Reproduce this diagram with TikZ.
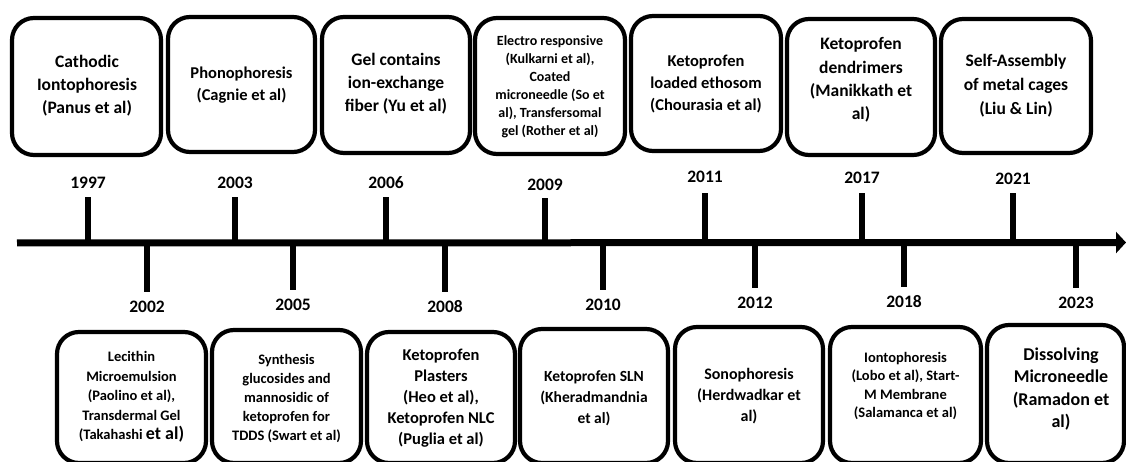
\documentclass[tikz,border=0pt]{standalone}
\usepackage{fontspec}
\setmainfont{Carlito}
\usetikzlibrary{arrows.meta}
\newcommand{\fsz}[2]{\fontsize{#1}{#2}\selectfont}
\tikzset{
  box/.style={draw=black, line width=4.2pt, rounded corners=22pt, fill=white, inner sep=0pt},
  txt/.style={align=center, inner sep=0pt},
  yr/.style={font=\bfseries\fsz{17.5}{20}, inner sep=0pt},
  axisline/.style={line width=7pt, -{Triangle[length=10pt,width=21pt]}},
  tickline/.style={line width=6pt},
}
\begin{document}
\begin{tikzpicture}[x=1pt,y=-1pt]
\useasboundingbox (0,0) rectangle (1126,462);

% ---- top boxes ----
\node[box, minimum width=149pt, minimum height=137pt] (T1) at (86.5,86.5) {};
\node[box, minimum width=147pt, minimum height=135pt] (T2) at (241.5,84.5) {};
\node[box, minimum width=148pt, minimum height=136pt] (T3) at (396,85) {};
\node[box, minimum width=150pt, minimum height=136pt] (T4) at (550,86) {};
\node[box, minimum width=150pt, minimum height=135pt] (T5) at (706,83.5) {};
\node[box, minimum width=148pt, minimum height=136pt] (T6) at (861,87) {};
\node[box, minimum width=150pt, minimum height=134pt] (T7) at (1016,86) {};

\node[txt, font=\bfseries\fsz{17.5}{23}] (T1t) at (87,86) {Cathodic\\Iontophoresis\\(Panus et al)};
\node[txt, font=\bfseries\fsz{16.5}{22}] (T2t) at (241.5,85) {Phonophoresis\\(Cagnie et al)};
\node[txt, font=\bfseries\fsz{17.5}{23}] (T3t) at (396,84) {Gel contains\\ion-exchange\\fiber (Yu et al)};
\node[txt, font=\bfseries\fsz{14}{18}] (T4t) at (550,87) {Electro responsive\\(Kulkarni et al),\\Coated\\microneedle (So et\\al), Transfersomal\\gel (Rother et al)};
\node[txt, font=\bfseries\fsz{16.5}{22}] (T5t) at (706,84) {Ketoprofen\\loaded ethosom\\(Chourasia et al)};
\node[txt, font=\bfseries\fsz{17.5}{23.3}] (T6t) at (861,80) {Ketoprofen\\dendrimers\\(Manikkath et\\al)};
\node[txt, font=\bfseries\fsz{17.5}{24}] (T7t) at (1016,86) {Self-Assembly\\of metal cages\\(Liu \& Lin)};

% ---- bottom boxes ----
\node[box, minimum width=149pt, minimum height=131pt] (B1) at (131.5,397.5) {};
\node[box, minimum width=149pt, minimum height=133pt] (B2) at (286.5,396.5) {};
\node[box, minimum width=148pt, minimum height=131pt] (B3) at (441,397.5) {};
\node[box, minimum width=148pt, minimum height=134pt] (B4) at (594,396) {};
\node[box, minimum width=148pt, minimum height=136pt] (B5) at (749,395) {};
\node[box, minimum width=151pt, minimum height=136pt] (B6) at (905.5,395) {};
\node[box, minimum width=137pt, minimum height=138pt] (B7) at (1055.5,394) {};

\node[txt, font=\bfseries\fsz{14.5}{19.5}] (B1t) at (131.5,397) {Lecithin\\Microemulsion\\(Paolino et al),\\Transdermal Gel\\(Takahashi {\fsz{18}{19}et al)}};
\node[txt, font=\bfseries\fsz{14.5}{19}] (B2t) at (286.5,399) {Synthesis\\glucosides and\\mannosidic of\\ketoprofen for\\TDDS (Swart et al)};
\node[txt, font=\bfseries\fsz{16.5}{21}] (B3t) at (441,398) {Ketoprofen\\Plasters\\(Heo et al),\\Ketoprofen NLC\\(Puglia et al)};
\node[txt, font=\bfseries\fsz{15.5}{21}] (B4t) at (594,398) {Ketoprofen SLN\\(Kheradmandnia\\et al)};
\node[txt, font=\bfseries\fsz{16}{21}] (B5t) at (749,396) {Sonophoresis\\(Herdwadkar et\\al)};
\node[txt, font=\bfseries\fsz{14.5}{18.5}] (B6t) at (905.5,386) {Iontophoresis\\(Lobo et al), Start-\\M Membrane\\(Salamanca et al)};
\node[txt, font=\bfseries\fsz{18}{22.5}] (B7t) at (1061,389) {Dissolving\\Microneedle\\(Ramadon et\\al)};

% ---- ticks and years ----
\foreach \x/\yt/\yl/\yr [count=\i] in {88/197/183/1997, 235/197/183/2003, 386/197/183/2006, 545/198/185/2009, 705/193/177/2011, 862/193/178/2017, 1013/193/179/2021}{
  \coordinate (U\i a) at (\x,243);
  \coordinate (U\i b) at (\x,\yt);
  \draw[tickline] (U\i a) -- (U\i b);
  \node[yr] (UL\i) at (\x,\yl) {\yr};
}
\foreach \x/\yt/\yl/\yr [count=\i] in {147/292/307/2002, 293/290/305/2005, 445/292/307/2008, 603/290/305/2010, 755/288/303/2012, 904/287/302/2018, 1076/288/303/2023}{
  \coordinate (D\i a) at (\x,243);
  \coordinate (D\i b) at (\x,\yt);
  \draw[tickline] (D\i a) -- (D\i b);
  \node[yr] (DL\i) at (\x,\yl) {\yr};
}

% ---- axis ----
\coordinate (A0) at (17,243);
\coordinate (A1) at (1126,242.5);
\draw[axisline] (A0) -- (A1);
\end{tikzpicture}
\end{document}
